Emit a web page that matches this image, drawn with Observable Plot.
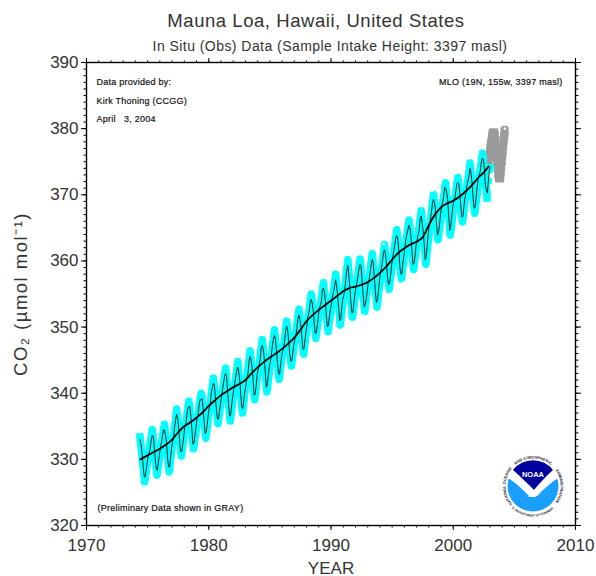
<!DOCTYPE html>
<html><head><meta charset="utf-8">
<script src="https://cdn.jsdelivr.net/npm/d3@7"></script>
<script src="https://cdn.jsdelivr.net/npm/@observablehq/plot@0.6"></script>
<style>
html,body{margin:0;padding:0;background:#fff}
#page{position:relative;width:596px;height:576px;overflow:hidden;font-family:"Liberation Sans",sans-serif;color:#333;background:#fff}
#title,#subtitle{position:absolute;z-index:2;white-space:pre;transform:translateX(-50%);line-height:1}
#title{left:316px;top:12px;font-size:18.5px;letter-spacing:.55px}
#subtitle{left:330px;top:39px;font-size:14px;letter-spacing:.45px}
#chart{position:absolute;left:0;top:50px}
#logo{position:absolute;left:498px;top:451px}
.note text{letter-spacing:.25px}
.ylab text{letter-spacing:1.5px}
</style></head><body>
<div id="page">
<div id="chart"></div>
<div id="title">Mauna Loa, Hawaii, United States</div>
<div id="subtitle">In Situ (Obs) Data (Sample Intake Height: 3397 masl)</div>
<svg id="logo" width="70" height="70" viewBox="-35 -35 70 70">
<defs>
<path id="rTop" d="M -18.4 -20.4 A 27.5 27.5 0 0 1 18.4 -20.4"/>
<path id="rRight" d="M 20.4 -18.4 A 27.5 27.5 0 0 1 20.4 18.4"/>
<path id="rLeft" d="M -20.4 18.4 A 27.5 27.5 0 0 1 -20.4 -18.4"/>
<path id="rBottom" d="M -20.4 22.7 A 30.5 30.5 0 0 0 20.4 22.7"/>
</defs>
<circle r="25.5" fill="#1a9fff"/>
<path d="M -25.2 -8 A 25.5 25.5 0 0 1 25.2 -8 C 17 -3 10 4 4 10 L -4 10 C -10 4 -17 -3 -25.2 -8 Z" fill="#fff"/>
<path d="M -20 -16 A 25.5 25.5 0 0 1 20 -16 C 12 -9 6 -2 1 4 C -5 -2 -12 -9 -20 -16 Z" fill="#00009c"/>
<path d="M -6 11 L 8 7 L 2 11 Z" fill="#fff"/>
<text y="-9" text-anchor="middle" font-size="7.5" font-weight="bold" fill="#fff" font-family="Liberation Sans">NOAA</text>
<g font-size="3.9" font-weight="bold" fill="#223" font-family="Liberation Sans" text-anchor="middle">
<text><textPath href="#rLeft" startOffset="50%">NATIONAL OCEANIC</textPath></text>
<text><textPath href="#rTop" startOffset="50%">AND ATMOSPHERIC</textPath></text>
<text><textPath href="#rRight" startOffset="50%">ADMINISTRATION</textPath></text>
<text font-size="3.1"><textPath href="#rBottom" startOffset="50%">U.S. DEPARTMENT OF COMMERCE</textPath></text>
</g>
</svg>
</div>
<script>
const startYear = 1974, startMonth = 4; // May 1974
const monthly = [
333.0,332.2,331.0,329.2,327.6,327.3,328.3,329.5,
330.45,330.98,331.63,332.88,333.63,333.53,331.9,330.08,328.59,328.31,329.44,330.64,
331.62,332.45,333.36,334.46,334.45,333.76,332.59,330.29,328.95,328.77,330.23,331.69,
332.70,333.24,334.96,336.04,336.82,336.13,334.73,332.52,331.19,331.19,332.35,333.47,
335.11,335.26,336.60,337.77,338.00,337.99,336.48,334.37,332.27,332.41,333.76,334.83,
336.21,336.64,338.12,339.02,339.02,339.20,337.58,335.55,333.89,334.14,335.26,336.71,
337.81,338.29,340.04,340.86,341.47,341.26,339.29,337.60,336.12,336.08,337.22,338.34,
339.36,340.51,341.57,342.56,343.01,342.49,340.32,338.27,336.52,336.68,338.19,339.44,
340.57,341.44,342.53,343.39,343.96,343.18,341.88,339.65,337.81,337.69,339.09,340.32,
341.20,342.35,342.93,344.77,345.58,345.14,343.81,342.21,339.69,339.82,340.98,342.82,
343.52,344.33,345.11,346.88,347.25,346.62,345.22,343.11,340.90,341.18,342.80,344.04,
344.79,345.82,347.25,348.17,348.74,348.07,346.38,344.51,343.09,342.80,344.24,345.56,
346.29,346.96,347.86,349.52,350.10,349.49,347.88,345.90,344.85,344.91,346.00,347.38,
348.18,348.73,349.76,351.31,351.83,351.14,349.91,348.17,346.63,346.74,348.08,349.39,
350.38,351.68,352.24,353.66,354.18,353.68,352.58,350.66,349.03,349.08,350.15,351.45,
352.89,353.24,353.80,355.59,355.89,355.30,353.98,351.53,350.02,350.29,351.72,352.69,
353.65,354.70,355.39,356.20,357.16,356.22,354.82,352.91,350.96,351.18,352.83,354.21,
354.72,355.75,357.16,358.60,359.34,357.97,355.99,353.78,352.20,352.22,353.70,354.98,
356.09,356.85,357.73,358.91,359.45,359.19,357.00,354.99,353.01,353.31,354.16,355.40,
356.70,357.17,358.38,359.46,360.28,359.60,357.57,355.52,353.70,353.98,355.33,356.80,
358.36,358.91,359.97,361.26,361.68,360.95,359.55,357.49,356.39,356.63,357.84,359.41,
360.42,361.44,362.30,363.39,363.83,363.33,361.78,359.34,358.05,357.98,359.55,360.70,
362.05,363.25,364.03,364.72,365.41,364.97,363.65,361.48,359.45,359.61,360.76,362.33,
363.18,364.00,364.57,366.35,366.79,365.62,364.47,362.51,360.19,360.77,362.43,364.28,
365.33,366.15,367.31,368.61,369.29,368.87,367.64,365.77,363.90,364.23,365.46,366.97,
368.15,368.87,369.59,371.14,371.00,370.35,369.27,366.93,364.63,365.12,366.67,368.01,
369.14,369.46,370.52,371.66,371.82,371.70,370.12,368.12,366.62,366.73,368.29,369.53,
370.28,371.50,372.12,372.87,374.02,373.30,371.62,369.55,367.96,368.09,369.68,371.24,
372.44,373.08,373.52,374.85,375.55,375.40,374.02,371.49,370.71,370.25,372.08,373.78,
374.10];
const monthlyData = monthly.map((v,i)=>({x:startYear+(startMonth+i+0.5)/12,y:v}));

// Envelope of the individual readings at each seasonal turn (cyan band)
const envelopeYears = d3.range(1974,2003);
const envelopeHigh = [333.4,334.5,335.3,337.6,338.8,340.0,342.3,343.8,344.8,346.4,348.1,349.6,350.9,352.7,355.0,356.7,358.0,360.2,360.3,361.1,362.5,364.7,366.2,367.6,370.1,371.8,372.6,374.8,376.3];
const envelopeLow = [326.6,327.6,328.1,330.5,331.6,333.2,335.4,335.8,337.0,339.0,340.2,342.1,344.1,345.9,348.3,349.3,350.3,351.5,352.3,353.0,355.7,357.3,358.7,359.5,363.2,363.9,365.9,367.2,369.5];
const envelope = envelopeYears.flatMap((yr,i)=>[{x:yr+0.38,y:envelopeHigh[i]},{x:yr+0.76,y:envelopeLow[i]}]);

// Smoothed trend
const trendX = [1974.4,1975,1975.5,1976,1976.5,1977,1977.5,1978,1978.5,1979,1979.5,1980,1980.5,1981,1981.5,1982,1982.5,1983,1983.5,1984,1984.5,1985,1985.5,1986,1986.5,1987,1987.5,1988,1988.5,1989,1989.5,1990,1990.5,1991,1991.5,1992,1992.5,1993,1993.5,1994,1994.5,1995,1995.5,1996,1996.5,1997,1997.5,1998,1998.5,1999,1999.5,2000,2000.5,2001,2001.5,2002,2002.5,2002.9];
const trendY = [330,330.6,331.1,331.6,332.2,333,334.1,335,335.6,336.3,337.1,338.1,338.9,339.7,340.3,340.9,341.4,342,343,343.9,344.7,345.4,346,346.7,347.5,348.4,349.6,350.9,351.8,352.6,353.3,354,354.7,355.4,355.9,356.1,356.4,356.8,357.4,358.2,359.1,360.2,361.2,361.9,362.5,362.9,363.6,365.4,367,368.1,368.7,369.1,369.7,370.5,371.4,372.5,373.4,374.3];
const trend = trendX.map((x,i)=>({x,y:trendY[i]}));

// Preliminary readings
const prelimX = [2002.8,2002.84,2002.88,2002.92,2002.96,2003.0,2003.04,2003.08,2003.12,2003.16,2003.2,2003.24,2003.28,2003.32,2003.36,2003.4,2003.44,2003.48,2003.52,2003.56,2003.6,2003.64,2003.68,2003.72,2003.76,2003.8,2003.84,2003.88,2003.92,2003.96,2004.0,2004.04,2004.08,2004.12,2004.16,2004.2];
const prelimY = [374.2,374.6,375.0,375.6,376.0,376.5,377.0,377.6,378.0,378.6,379.0,379.3,379.4,379.4,379.3,379.0,378.2,377.4,376.5,375.6,374.8,374.0,373.2,372.7,372.5,372.5,372.7,373.4,374.2,375.0,375.8,376.6,377.4,378.2,378.9,379.6];
const prelim = prelimX.map((x,i)=>({x,y:prelimY[i]}));
const prelimLast = [{x:2004.22,y:380}];

// Readings whose hollow centre stays visible
const hollowX = [1992.65,1994.6,1997.65,1994.3,1998.3,2004.22];
const hollowY = [351.75,354.3,358.7,362.6,370.6,380];
const hollow = hollowX.map((x,i)=>({x,y:hollowY[i]}));

const xMajor = d3.range(1970,2011,10), xMinor = d3.range(1970,2011,1);
const yMajor = d3.range(320,391,10), yMinor = d3.range(320,391,1);
const notesLeft = ["Data provided by:","Kirk Thoning (CCGG)","April   3, 2004"];
const noteRight = "MLO (19N, 155w, 3397 masl)";
const noteGray = "(Preliminary Data shown in GRAY)";
const yTitle = "CO₂ (µmol mol⁻¹)";
const noteFont = {fontSize:9,fill:"#111",stroke:"#111",strokeWidth:0.2,fontFamily:"Liberation Sans",className:"note"};

const chart = Plot.plot({
  width:596,height:526,marginTop:12,marginBottom:51,marginLeft:86,marginRight:21,
  style:{fontSize:"17px",fontFamily:"Liberation Sans",color:"#333",background:"transparent",overflow:"visible"},
  x:{domain:[1970,2010]},y:{domain:[320,390]},
  marks:[
    Plot.dot(prelim,{x:"x",y:"y",symbol:"square",r:4.6,fill:"#9b9b9b"}),
    Plot.dot(prelimLast,{x:"x",y:"y",symbol:"square",r:3.2,fill:"#9b9b9b"}),
    Plot.line(envelope,{x:"x",y:"y",stroke:"#00ffff",strokeWidth:7.5,strokeLinejoin:"round",strokeLinecap:"square"}),
    Plot.dot(monthlyData,{x:"x",y:"y",symbol:"square",r:3.8,fill:"#00ffff"}),
    Plot.dot(hollow,{x:"x",y:"y",symbol:"square",r:1.3,fill:"#fff"}),
    Plot.line(monthlyData,{x:"x",y:"y",stroke:"#003333",strokeWidth:1,curve:"linear"}),
    Plot.line(trend,{x:"x",y:"y",stroke:"#000",strokeWidth:1.8,curve:"monotone-x"}),
    Plot.frame({stroke:"#000",strokeWidth:1.4}),
    Plot.axisX({anchor:"bottom",ticks:xMajor,tickFormat:d=>String(d),tickSize:5,tickPadding:8,label:"YEAR",labelAnchor:"center",labelOffset:48,labelArrow:"none",stroke:"#000"}),
    Plot.axisX({anchor:"bottom",ticks:xMinor,tickSize:2.5,text:null,label:null,stroke:"#000"}),
    Plot.axisX({anchor:"top",ticks:xMajor,tickSize:5,text:null,label:null,stroke:"#000"}),
    Plot.axisX({anchor:"top",ticks:xMinor,tickSize:2.5,text:null,label:null,stroke:"#000"}),
    Plot.axisY({anchor:"left",ticks:yMajor,tickSize:5,tickPadding:3,label:null,stroke:"#000"}),
    Plot.axisY({anchor:"left",ticks:yMinor,tickSize:2.5,text:null,label:null,stroke:"#000"}),
    Plot.axisY({anchor:"right",ticks:yMajor,tickSize:5,text:null,label:null,stroke:"#000"}),
    Plot.axisY({anchor:"right",ticks:yMinor,tickSize:2.5,text:null,label:null,stroke:"#000"}),
    Plot.text([yTitle],{text:d=>d,frameAnchor:"left",dx:-65,fontSize:18.5,rotate:-90,textAnchor:"middle",fill:"#333",fontFamily:"Liberation Sans",className:"ylab"}),
    Plot.text([notesLeft[0]],{text:d=>d,frameAnchor:"top-left",dx:10,dy:16,...noteFont}),
    Plot.text([notesLeft[1]],{text:d=>d,frameAnchor:"top-left",dx:10,dy:35,...noteFont}),
    Plot.text([notesLeft[2]],{text:d=>d,frameAnchor:"top-left",dx:10,dy:53,...noteFont}),
    Plot.text([noteRight],{text:d=>d,frameAnchor:"top-right",dx:-13,dy:16,...noteFont}),
    Plot.text([noteGray],{text:d=>d,frameAnchor:"bottom-left",dx:11,dy:-15,...noteFont})
  ]
});
document.getElementById("chart").append(chart);
</script>
</body></html>
